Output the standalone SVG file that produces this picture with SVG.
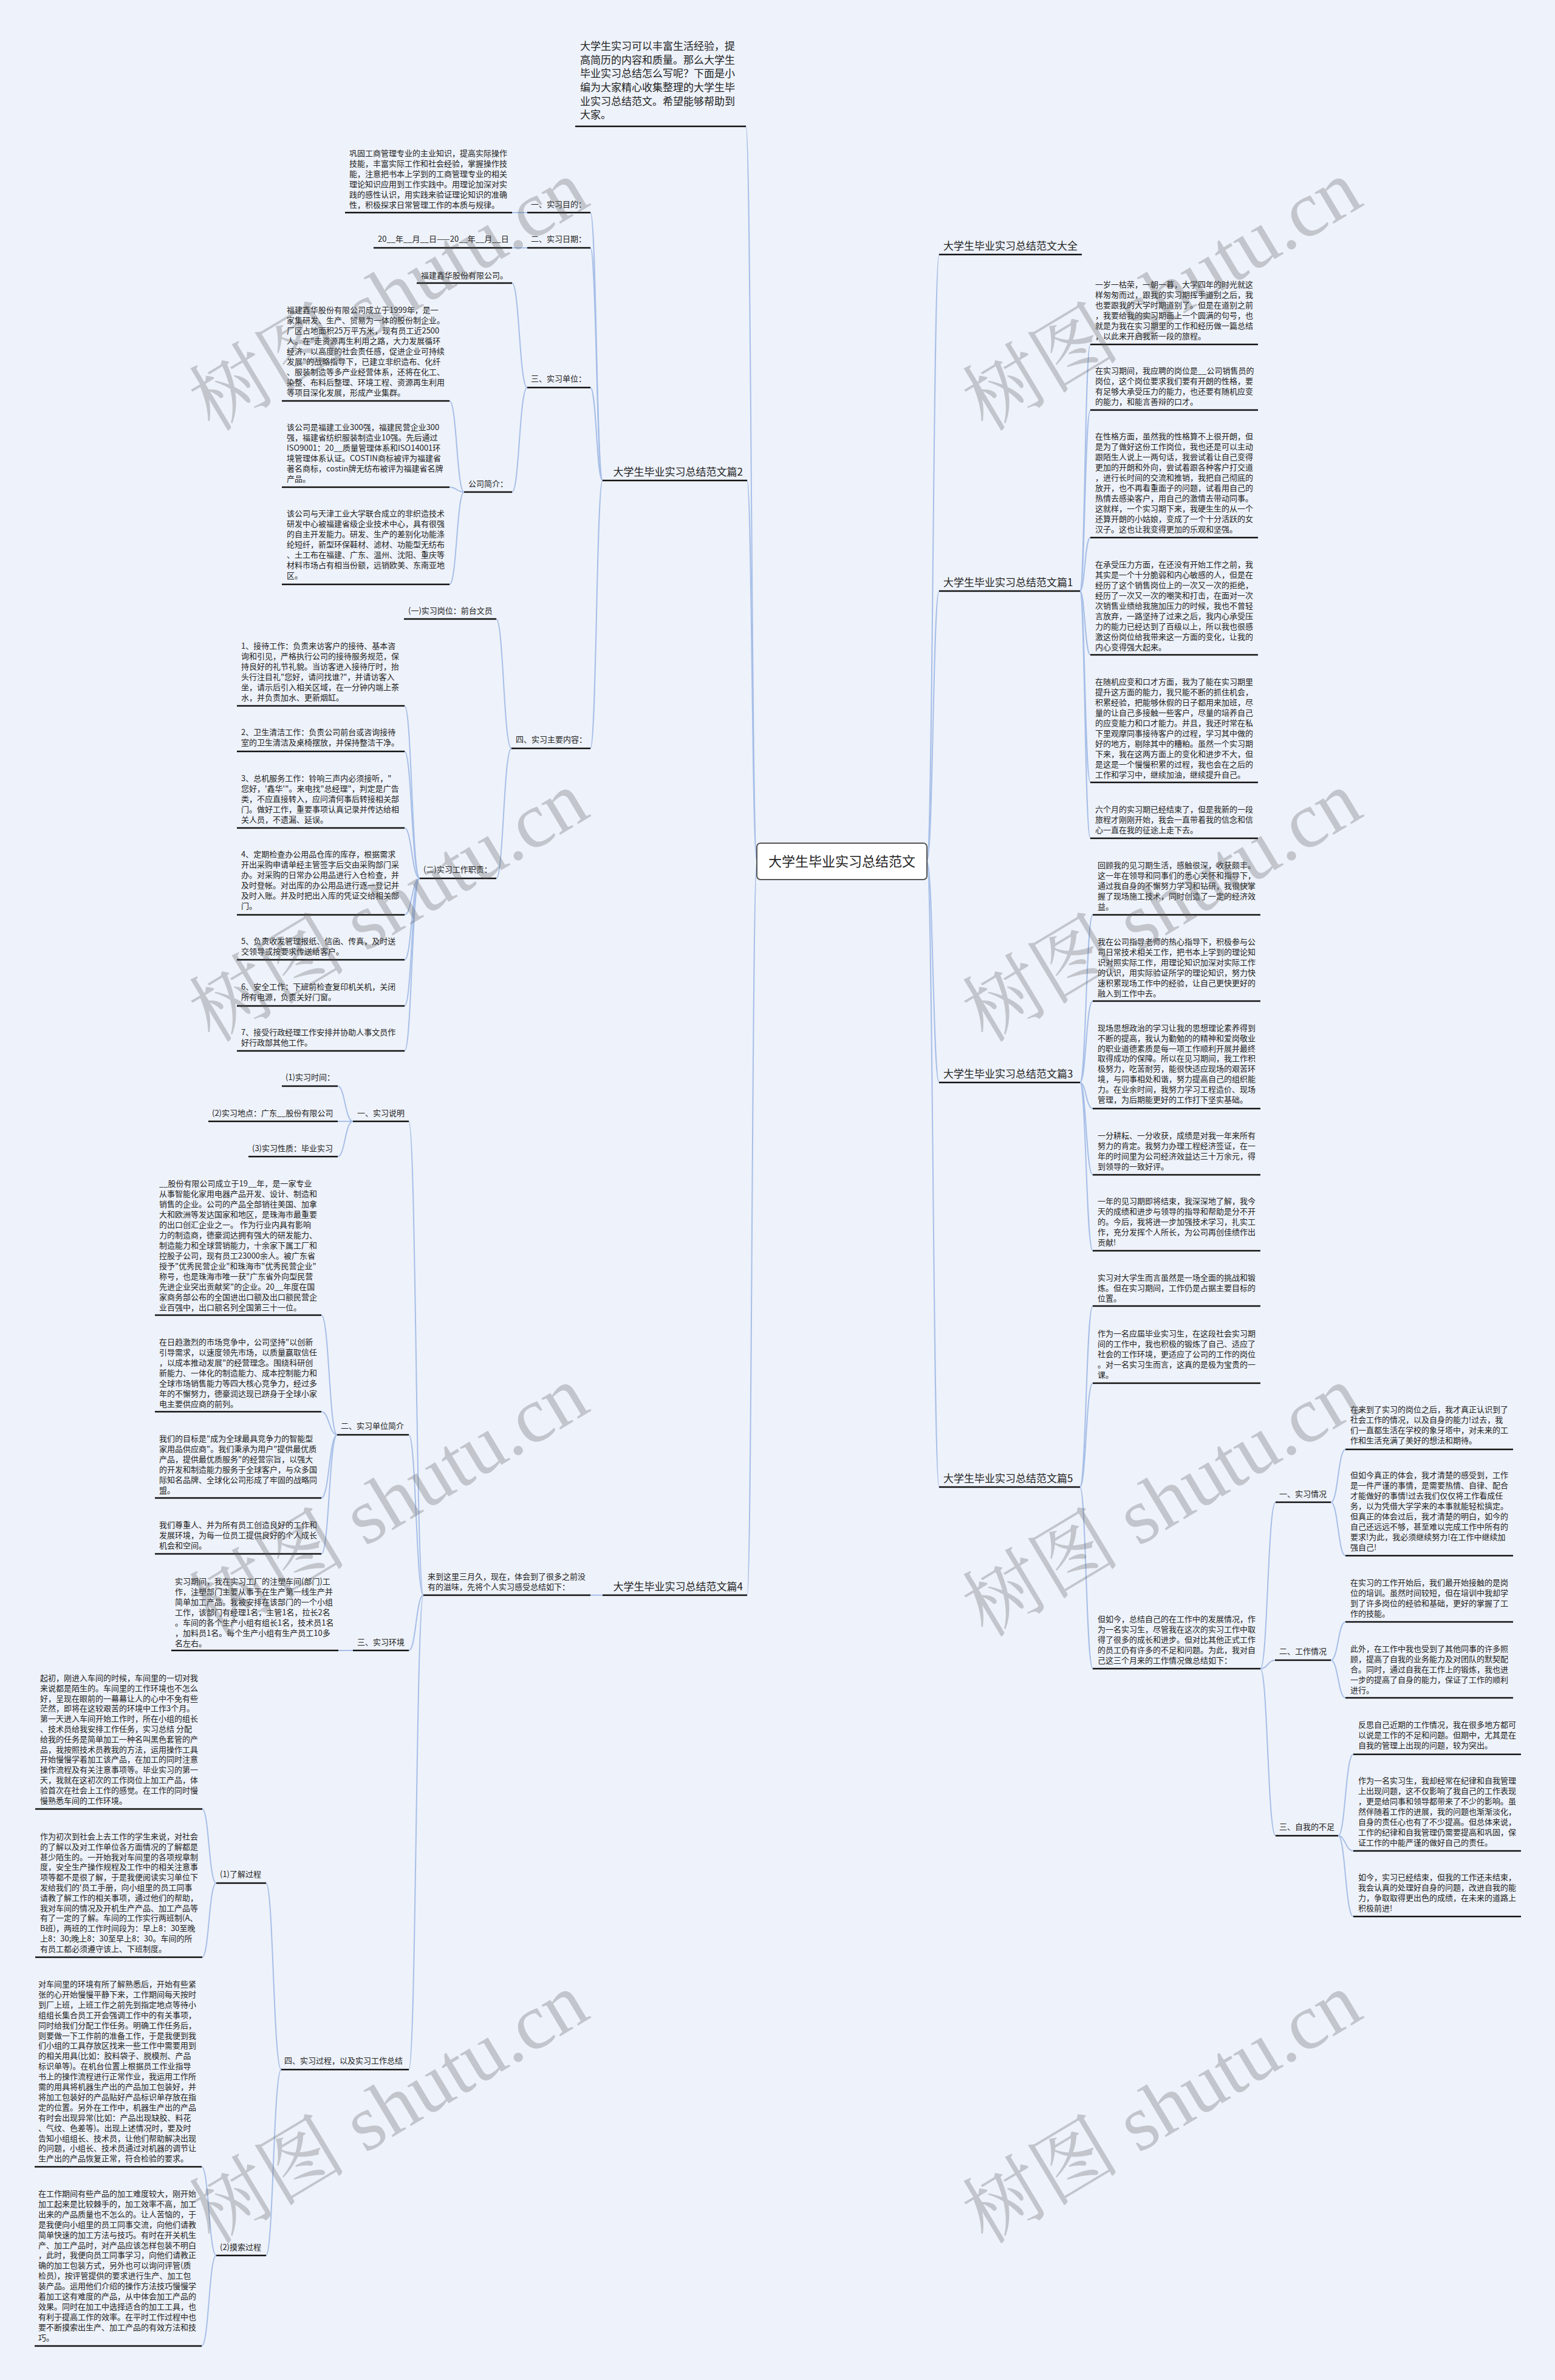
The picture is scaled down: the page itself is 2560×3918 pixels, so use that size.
<svg xmlns="http://www.w3.org/2000/svg" width="2560" height="3918" viewBox="0 0 2560 3918">
<style>
.t{font-family:"Noto Sans CJK SC","Noto Sans",sans-serif;font-size:13px;fill:#222}
.b{font-family:"Noto Sans CJK SC","Noto Sans",sans-serif;font-size:17px;fill:#222}
.c{font-family:"Noto Sans CJK SC","Noto Sans",sans-serif;font-size:22px;fill:#222}
.u{stroke:#111;stroke-width:2.4;fill:none}
.l{stroke:#a7bfe8;stroke-width:2;fill:none}
.w{font-family:"Liberation Serif","Noto Serif CJK SC",serif;font-size:130px;fill:#555;opacity:0.28}
</style>
<rect width="2560" height="3918" fill="#eef2fa"/>

<g id="connectors">
<path class="l" d="M1246 1418 C1237 1418 1237 208 1228 208"/>
<path class="l" d="M1246 1418 C1238 1418 1238 791 1230 791"/>
<path class="l" d="M1246 1418 C1238 1418 1238 2626 1230 2626"/>
<path class="l" d="M1526 1418 C1536 1418 1536 419 1546 419"/>
<path class="l" d="M1526 1418 C1536 1418 1536 973 1546 973"/>
<path class="l" d="M1526 1418 C1536 1418 1536 1782 1546 1782"/>
<path class="l" d="M1526 1418 C1536 1418 1536 2448 1546 2448"/>
<path class="l" d="M992 791 C982 791 982 350 972 350"/>
<path class="l" d="M992 791 C982 791 982 408 972 408"/>
<path class="l" d="M992 791 C982 791 982 638 972 638"/>
<path class="l" d="M992 791 C982 791 982 1232 972 1232"/>
<path class="l" d="M868 350 H843"/>
<path class="l" d="M868 408 H843"/>
<path class="l" d="M868 638 C855 638 855 466 843 466"/>
<path class="l" d="M868 638 C855 638 855 810 843 810"/>
<path class="l" d="M764 810 C752 810 752 660 740 660"/>
<path class="l" d="M764 810 C752 810 752 802 740 802"/>
<path class="l" d="M764 810 C752 810 752 962 740 962"/>
<path class="l" d="M842 1232 C829 1232 829 1019 817 1019"/>
<path class="l" d="M842 1232 C829 1232 829 1446 817 1446"/>
<path class="l" d="M691 1446 C678 1446 678 1162 666 1162"/>
<path class="l" d="M691 1446 C678 1446 678 1237 666 1237"/>
<path class="l" d="M691 1446 C678 1446 678 1363 666 1363"/>
<path class="l" d="M691 1446 C678 1446 678 1506 666 1506"/>
<path class="l" d="M691 1446 C678 1446 678 1580 666 1580"/>
<path class="l" d="M691 1446 C678 1446 678 1656 666 1656"/>
<path class="l" d="M691 1446 C678 1446 678 1730 666 1730"/>
<path class="l" d="M992 2626 H972"/>
<path class="l" d="M697 2626 C685 2626 685 1846 673 1846"/>
<path class="l" d="M697 2626 C685 2626 685 2362 673 2362"/>
<path class="l" d="M697 2626 C685 2626 685 2717 673 2717"/>
<path class="l" d="M697 2626 C685 2626 685 3407 673 3407"/>
<path class="l" d="M581 1846 C568 1846 568 1788 556 1788"/>
<path class="l" d="M581 1846 H556"/>
<path class="l" d="M581 1846 C568 1846 568 1904 556 1904"/>
<path class="l" d="M555 2362 C542 2362 542 2165 529 2165"/>
<path class="l" d="M555 2362 C542 2362 542 2324 529 2324"/>
<path class="l" d="M555 2362 C542 2362 542 2466 529 2466"/>
<path class="l" d="M555 2362 C542 2362 542 2558 529 2558"/>
<path class="l" d="M581 2717 H557"/>
<path class="l" d="M463 3407 C450 3407 450 3100 438 3100"/>
<path class="l" d="M463 3407 C450 3407 450 3713 438 3713"/>
<path class="l" d="M356 3100 C344 3100 344 2978 333 2978"/>
<path class="l" d="M356 3100 C344 3100 344 3222 333 3222"/>
<path class="l" d="M356 3713 C344 3713 344 3567 332 3567"/>
<path class="l" d="M356 3713 C344 3713 344 3862 332 3862"/>
<path class="l" d="M1778 973 C1786 973 1786 567 1795 567"/>
<path class="l" d="M1778 973 C1786 973 1786 675 1795 675"/>
<path class="l" d="M1778 973 C1786 973 1786 885 1795 885"/>
<path class="l" d="M1778 973 C1786 973 1786 1078 1795 1078"/>
<path class="l" d="M1778 973 C1786 973 1786 1288 1795 1288"/>
<path class="l" d="M1778 973 C1786 973 1786 1380 1795 1380"/>
<path class="l" d="M1778 1782 C1788 1782 1788 1506 1799 1506"/>
<path class="l" d="M1778 1782 C1788 1782 1788 1648 1799 1648"/>
<path class="l" d="M1778 1782 C1788 1782 1788 1825 1799 1825"/>
<path class="l" d="M1778 1782 C1788 1782 1788 1934 1799 1934"/>
<path class="l" d="M1778 1782 C1788 1782 1788 2059 1799 2059"/>
<path class="l" d="M1778 2448 C1788 2448 1788 2150 1799 2150"/>
<path class="l" d="M1778 2448 C1788 2448 1788 2277 1799 2277"/>
<path class="l" d="M1778 2448 C1788 2448 1788 2747 1799 2747"/>
<path class="l" d="M2075 2747 C2087 2747 2087 2473 2100 2473"/>
<path class="l" d="M2075 2747 C2087 2747 2087 2733 2100 2733"/>
<path class="l" d="M2075 2747 C2087 2747 2087 3022 2100 3022"/>
<path class="l" d="M2191 2473 C2203 2473 2203 2386 2215 2386"/>
<path class="l" d="M2191 2473 C2203 2473 2203 2561 2215 2561"/>
<path class="l" d="M2191 2733 C2203 2733 2203 2670 2215 2670"/>
<path class="l" d="M2191 2733 C2203 2733 2203 2795 2215 2795"/>
<path class="l" d="M2203 3022 C2215 3022 2215 2888 2228 2888"/>
<path class="l" d="M2203 3022 C2215 3022 2215 3047 2228 3047"/>
<path class="l" d="M2203 3022 C2215 3022 2215 3155 2228 3155"/>
</g>

<g id="center">
<rect x="1246" y="1388" width="280" height="60" rx="6" fill="#ffffff" stroke="#555" stroke-width="2"/>
<text class="c" x="1386" y="1426" text-anchor="middle">大学生毕业实习总结范文</text>
</g>

<g id="intro">
<text class="b" x="955"><tspan x="955" y="82">大学生实习可以丰富生活经验，提</tspan><tspan x="955" y="105">高简历的内容和质量。那么大学生</tspan><tspan x="955" y="127">毕业实习总结怎么写呢？下面是小</tspan><tspan x="955" y="150">编为大家精心收集整理的大学生毕</tspan><tspan x="955" y="173">业实习总结范文。希望能够帮助到</tspan><tspan x="955" y="195">大家。</tspan></text>
<line class="u" x1="947" y1="208" x2="1228" y2="208"/>
</g>

<g id="p2">
<text class="b" x="1223" y="783" text-anchor="end">大学生毕业实习总结范文篇2</text>
<line class="u" x1="992" y1="791" x2="1230" y2="791"/>
</g>
<g id="p2-1"><text class="t" x="874" y="341">一、实习目的：</text><line class="u" x1="868" y1="350" x2="972" y2="350"/></g>
<g id="p2-1a"><text class="t" x="575"><tspan x="575" y="257">巩固工商管理专业的主业知识，提高实际操作</tspan><tspan x="575" dy="17">技能，丰富实际工作和社会经验，掌握操作技</tspan><tspan x="575" dy="17">能，注意把书本上学到的工商管理专业的相关</tspan><tspan x="575" dy="17">理论知识应用到工作实践中。用理论加深对实</tspan><tspan x="575" dy="17">践的感性认识，用实践来验证理论知识的准确</tspan><tspan x="575" dy="17">性，积极探求日常管理工作的本质与规律。</tspan></text><line class="u" x1="568" y1="350" x2="843" y2="350"/></g>
<g id="p2-2"><text class="t" x="874" y="398">二、实习日期：</text><line class="u" x1="868" y1="408" x2="972" y2="408"/></g>
<g id="p2-2a"><text class="t" x="622" y="398">20__年__月__日——20__年__月__日</text><line class="u" x1="615" y1="408" x2="843" y2="408"/></g>
<g id="p2-3"><text class="t" x="874" y="628">三、实习单位：</text><line class="u" x1="868" y1="638" x2="972" y2="638"/></g>
<g id="p2-3a"><text class="t" x="693" y="458">福建鑫华股份有限公司。</text><line class="u" x1="686" y1="466" x2="843" y2="466"/></g>
<g id="p2-3b"><text class="t" x="771" y="801">公司简介：</text><line class="u" x1="764" y1="810" x2="843" y2="810"/></g>
<g id="p2-3b1"><text class="t" x="472"><tspan x="472" y="515">福建鑫华股份有限公司成立于1999年，是一</tspan><tspan x="472" dy="17">家集研发、生产、贸易为一体的股份制企业。</tspan><tspan x="472" dy="17">厂区占地面积25万平方米，现有员工近2500</tspan><tspan x="472" dy="17">人。在"走资源再生利用之路，大力发展循环</tspan><tspan x="472" dy="17">经济，以高度的社会责任感，促进企业可持续</tspan><tspan x="472" dy="17">发展"的战略指导下，已建立非织造布、化纤</tspan><tspan x="472" dy="17">、服装制造等多产业经营体系，还将在化工、</tspan><tspan x="472" dy="17">染整、布料后整理、环境工程、资源再生利用</tspan><tspan x="472" dy="17">等项目深化发展，形成产业集群。</tspan></text><line class="u" x1="464" y1="660" x2="740" y2="660"/></g>
<g id="p2-3b2"><text class="t" x="472"><tspan x="472" y="708">该公司是福建工业300强，福建民营企业300</tspan><tspan x="472" dy="17">强，福建省纺织服装制造业10强。先后通过</tspan><tspan x="472" dy="17">ISO9001：20__质量管理体系和ISO14001环</tspan><tspan x="472" dy="17">境管理体系认证。COSTIN商标被评为福建省</tspan><tspan x="472" dy="17">著名商标，costin牌无纺布被评为福建省名牌</tspan><tspan x="472" dy="17">产品。</tspan></text><line class="u" x1="464" y1="802" x2="740" y2="802"/></g>
<g id="p2-3b3"><text class="t" x="472"><tspan x="472" y="850">该公司与天津工业大学联合成立的非织造技术</tspan><tspan x="472" dy="17">研发中心被福建省级企业技术中心，具有很强</tspan><tspan x="472" dy="17">的自主开发能力。研发、生产的差别化功能涤</tspan><tspan x="472" dy="17">纶短纤，新型环保鞋材、滤材、功能型无纺布</tspan><tspan x="472" dy="17">、土工布在福建、广东、温州、沈阳、重庆等</tspan><tspan x="472" dy="17">材料市场占有相当份额，远销欧美、东南亚地</tspan><tspan x="472" dy="17">区。</tspan></text><line class="u" x1="464" y1="962" x2="740" y2="962"/></g>
<g id="p2-4"><text class="t" x="849" y="1222">四、实习主要内容：</text><line class="u" x1="842" y1="1232" x2="972" y2="1232"/></g>
<g id="p2-4a"><text class="t" x="672" y="1010">(一)实习岗位：前台文员</text><line class="u" x1="665" y1="1019" x2="817" y2="1019"/></g>
<g id="p2-4b"><text class="t" x="697" y="1436">(二)实习工作职责：</text><line class="u" x1="691" y1="1446" x2="817" y2="1446"/></g>
<g id="p2-4b1"><text class="t" x="397"><tspan x="397" y="1068">1、接待工作：负责来访客户的接待、基本咨</tspan><tspan x="397" dy="17">询和引见，严格执行公司的接待服务规范，保</tspan><tspan x="397" dy="17">持良好的礼节礼貌。当访客进入接待厅时，抬</tspan><tspan x="397" dy="17">头行注目礼"您好，请问找谁?"，并请访客入</tspan><tspan x="397" dy="17">坐，请示后引入相关区域，在一分钟内端上茶</tspan><tspan x="397" dy="17">水，并负责加水、更新烟缸。</tspan></text><line class="u" x1="390" y1="1162" x2="666" y2="1162"/></g>
<g id="p2-4b2"><text class="t" x="397"><tspan x="397" y="1210">2、卫生清洁工作：负责公司前台或咨询接待</tspan><tspan x="397" dy="17">室的卫生清洁及桌椅摆放，并保持整洁干净。</tspan></text><line class="u" x1="390" y1="1237" x2="666" y2="1237"/></g>
<g id="p2-4b3"><text class="t" x="397"><tspan x="397" y="1286">3、总机服务工作：铃响三声内必须接听，"</tspan><tspan x="397" dy="17">您好，'鑫华'"。来电找"总经理"，判定是广告</tspan><tspan x="397" dy="17">类，不应直接转入，应问清何事后转接相关部</tspan><tspan x="397" dy="17">门。做好工作，重要事项认真记录并传达给相</tspan><tspan x="397" dy="17">关人员，不遗漏、延误。</tspan></text><line class="u" x1="390" y1="1363" x2="666" y2="1363"/></g>
<g id="p2-4b4"><text class="t" x="397"><tspan x="397" y="1411">4、定期检查办公用品仓库的库存，根据需求</tspan><tspan x="397" dy="17">开出采购申请单经主管签字后交由采购部门采</tspan><tspan x="397" dy="17">办。对采购的日常办公用品进行入仓检查，并</tspan><tspan x="397" dy="17">及时登帐。对出库的办公用品进行逐一登记并</tspan><tspan x="397" dy="17">及时入账。并及时把出入库的凭证交给相关部</tspan><tspan x="397" dy="17">门。</tspan></text><line class="u" x1="390" y1="1506" x2="666" y2="1506"/></g>
<g id="p2-4b5"><text class="t" x="397"><tspan x="397" y="1554">5、负责收发管理报纸、信函、传真，及时送</tspan><tspan x="397" dy="17">交领导或按要求传送给客户。</tspan></text><line class="u" x1="390" y1="1580" x2="666" y2="1580"/></g>
<g id="p2-4b6"><text class="t" x="397"><tspan x="397" y="1629">6、安全工作：下班前检查复印机关机，关闭</tspan><tspan x="397" dy="17">所有电源，负责关好门窗。</tspan></text><line class="u" x1="390" y1="1656" x2="666" y2="1656"/></g>
<g id="p2-4b7"><text class="t" x="397"><tspan x="397" y="1704">7、接受行政经理工作安排并协助人事文员作</tspan><tspan x="397" dy="17">好行政部其他工作。</tspan></text><line class="u" x1="390" y1="1730" x2="666" y2="1730"/></g>

<g id="p4">
<text class="b" x="1223" y="2618" text-anchor="end">大学生毕业实习总结范文篇4</text>
<line class="u" x1="992" y1="2626" x2="1230" y2="2626"/>
</g>
<g id="p4-0"><text class="t" x="704"><tspan x="704" y="2600">来到这里三月久，现在，体会到了很多之前没</tspan><tspan x="704" dy="17">有的滋味，先将个人实习感受总结如下：</tspan></text><line class="u" x1="697" y1="2626" x2="972" y2="2626"/></g>
<g id="p4-1"><text class="t" x="588" y="1837">一、实习说明</text><line class="u" x1="581" y1="1846" x2="673" y2="1846"/></g>
<g id="p4-1a"><text class="t" x="470" y="1778">(1)实习时间：</text><line class="u" x1="464" y1="1788" x2="556" y2="1788"/></g>
<g id="p4-1b"><text class="t" x="349" y="1837">(2)实习地点：广东__股份有限公司</text><line class="u" x1="343" y1="1846" x2="556" y2="1846"/></g>
<g id="p4-1c"><text class="t" x="415" y="1895">(3)实习性质：毕业实习</text><line class="u" x1="409" y1="1904" x2="556" y2="1904"/></g>
<g id="p4-2"><text class="t" x="561" y="2352">二、实习单位简介</text><line class="u" x1="555" y1="2362" x2="673" y2="2362"/></g>
<g id="p4-2a"><text class="t" x="262"><tspan x="262" y="1953">__股份有限公司成立于19__年，是一家专业</tspan><tspan x="262" dy="17">从事智能化家用电器产品开发、设计、制造和</tspan><tspan x="262" dy="17">销售的企业。公司的产品全部销往美国、加拿</tspan><tspan x="262" dy="17">大和欧洲等发达国家和地区，是珠海市最重要</tspan><tspan x="262" dy="17">的出口创汇企业之一。 作为行业内具有影响</tspan><tspan x="262" dy="17">力的制造商，德豪润达拥有强大的研发能力、</tspan><tspan x="262" dy="17">制造能力和全球营销能力，十余家下属工厂和</tspan><tspan x="262" dy="17">控股子公司，现有员工23000余人。被广东省</tspan><tspan x="262" dy="17">授予"优秀民营企业"和珠海市"优秀民营企业"</tspan><tspan x="262" dy="17">称号，也是珠海市唯一获"广东省外向型民营</tspan><tspan x="262" dy="17">先进企业突出贡献奖"的企业。20__年度在国</tspan><tspan x="262" dy="17">家商务部公布的全国进出口额及出口额民营企</tspan><tspan x="262" dy="17">业百强中，出口额名列全国第三十一位。</tspan></text><line class="u" x1="255" y1="2165" x2="529" y2="2165"/></g>
<g id="p4-2b"><text class="t" x="262"><tspan x="262" y="2214">在日趋激烈的市场竞争中，公司坚持"以创新</tspan><tspan x="262" dy="17">引导需求，以速度领先市场，以质量赢取信任</tspan><tspan x="262" dy="17">，以成本推动发展"的经营理念。围绕科研创</tspan><tspan x="262" dy="17">新能力、一体化的制造能力、成本控制能力和</tspan><tspan x="262" dy="17">全球市场销售能力等四大核心竞争力，经过多</tspan><tspan x="262" dy="17">年的不懈努力，德豪润达现已跻身于全球小家</tspan><tspan x="262" dy="17">电主要供应商的前列。</tspan></text><line class="u" x1="255" y1="2324" x2="529" y2="2324"/></g>
<g id="p4-2c"><text class="t" x="262"><tspan x="262" y="2373">我们的目标是"成为全球最具竞争力的智能型</tspan><tspan x="262" dy="17">家用品供应商"。我们秉承为用户"提供最优质</tspan><tspan x="262" dy="17">产品，提供最优质服务"的经营宗旨，以强大</tspan><tspan x="262" dy="17">的开发和制造能力服务于全球客户，与众多国</tspan><tspan x="262" dy="17">际知名品牌、全球化公司形成了牢固的战略同</tspan><tspan x="262" dy="17">盟。</tspan></text><line class="u" x1="255" y1="2466" x2="529" y2="2466"/></g>
<g id="p4-2d"><text class="t" x="262"><tspan x="262" y="2515">我们尊重人、并为所有员工创造良好的工作和</tspan><tspan x="262" dy="17">发展环境，为每一位员工提供良好的个人成长</tspan><tspan x="262" dy="17">机会和空间。</tspan></text><line class="u" x1="255" y1="2558" x2="529" y2="2558"/></g>
<g id="p4-3"><text class="t" x="588" y="2708">三、实习环境</text><line class="u" x1="581" y1="2717" x2="673" y2="2717"/></g>
<g id="p4-3a"><text class="t" x="288"><tspan x="288" y="2608">实习期间，我在实习工厂的注塑车间(部门)工</tspan><tspan x="288" dy="17">作，注塑部门主要从事于在生产第一线生产并</tspan><tspan x="288" dy="17">简单加工产品。我被安排在该部门的一个小组</tspan><tspan x="288" dy="17">工作，该部门有经理1名，主管1名，拉长2名</tspan><tspan x="288" dy="17">。车间的各个生产小组有组长1名，技术员1名</tspan><tspan x="288" dy="17">，加料员1名。每个生产小组有生产员工10多</tspan><tspan x="288" dy="17">名左右。</tspan></text><line class="u" x1="282" y1="2717" x2="557" y2="2717"/></g>
<g id="p4-4"><text class="t" x="468" y="3397">四、实习过程，以及实习工作总结</text><line class="u" x1="463" y1="3407" x2="673" y2="3407"/></g>
<g id="p4-4a"><text class="t" x="362" y="3090">(1)了解过程</text><line class="u" x1="356" y1="3100" x2="438" y2="3100"/></g>
<g id="p4-4b"><text class="t" x="362" y="3704">(2)摸索过程</text><line class="u" x1="356" y1="3713" x2="438" y2="3713"/></g>
<g id="p4-4a1"><text class="t" x="66"><tspan x="66" y="2767">起初，刚进入车间的时候，车间里的一切对我</tspan><tspan x="66" dy="16.8">来说都是陌生的。车间里的工作环境也不怎么</tspan><tspan x="66" dy="16.8">好，呈现在眼前的一幕幕让人的心中不免有些</tspan><tspan x="66" dy="16.8">茫然，即将在这较艰苦的环境中工作3个月。</tspan><tspan x="66" dy="16.8">第一天进入车间开始工作时，所在小组的组长</tspan><tspan x="66" dy="16.8">、技术员给我安排工作任务，实习总结 分配</tspan><tspan x="66" dy="16.8">给我的任务是简单加工一种名叫黑色套管的产</tspan><tspan x="66" dy="16.8">品，我按照技术员教我的方法，运用操作工具</tspan><tspan x="66" dy="16.8">开始慢慢学着加工该产品，在加工的同时注意</tspan><tspan x="66" dy="16.8">操作流程及有关注意事项等。毕业实习的第一</tspan><tspan x="66" dy="16.8">天，我就在这初次的工作岗位上加工产品，体</tspan><tspan x="66" dy="16.8">验首次在社会上工作的感觉。在工作的同时慢</tspan><tspan x="66" dy="16.8">慢熟悉车间的工作环境。</tspan></text><line class="u" x1="58" y1="2978" x2="333" y2="2978"/></g>
<g id="p4-4a2"><text class="t" x="66"><tspan x="66" y="3028">作为初次到社会上去工作的学生来说，对社会</tspan><tspan x="66" dy="16.8">的了解以及对工作单位各方面情况的了解都是</tspan><tspan x="66" dy="16.8">甚少陌生的。一开始我对车间里的各项规章制</tspan><tspan x="66" dy="16.8">度，安全生产操作规程及工作中的相关注意事</tspan><tspan x="66" dy="16.8">项等都不是很了解，于是我便阅读实习单位下</tspan><tspan x="66" dy="16.8">发给我们的'员工手册，向小组里的员工同事</tspan><tspan x="66" dy="16.8">请教了解工作的相关事项，通过他们的帮助，</tspan><tspan x="66" dy="16.8">我对车间的情况及开机生产产品、加工产品等</tspan><tspan x="66" dy="16.8">有了一定的了解。车间的工作实行两班制(A、</tspan><tspan x="66" dy="16.8">B班)，两班的工作时间段为：早上8：30至晚</tspan><tspan x="66" dy="16.8">上8：30;晚上8：30至早上8：30。车间的所</tspan><tspan x="66" dy="16.8">有员工都必须遵守该上、下班制度。</tspan></text><line class="u" x1="58" y1="3222" x2="333" y2="3222"/></g>
<g id="p4-4b1"><text class="t" x="63"><tspan x="63" y="3271">对车间里的环境有所了解熟悉后，开始有些紧</tspan><tspan x="63" dy="16.9">张的心开始慢慢平静下来，工作期间每天按时</tspan><tspan x="63" dy="16.9">到厂上班，上班工作之前先到指定地点等待小</tspan><tspan x="63" dy="16.9">组组长集合员工开会强调工作中的有关事项，</tspan><tspan x="63" dy="16.9">同时给我们分配工作任务。明确工作任务后，</tspan><tspan x="63" dy="16.9">则要做一下工作前的准备工作，于是我便到我</tspan><tspan x="63" dy="16.9">们小组的工具存放区找来一些工作中需要用到</tspan><tspan x="63" dy="16.9">的相关用具(比如：胶料袋子、脱模剂、产品</tspan><tspan x="63" dy="16.9">标识单等)。在机台位置上根据员工作业指导</tspan><tspan x="63" dy="16.9">书上的操作流程进行正常作业，我运用工作所</tspan><tspan x="63" dy="16.9">需的用具将机器生产出的产品加工包装好，并</tspan><tspan x="63" dy="16.9">将加工包装好的产品贴好产品标识单存放在指</tspan><tspan x="63" dy="16.9">定的位置。另外在工作中，机器生产出的产品</tspan><tspan x="63" dy="16.9">有时会出现异常(比如：产品出现缺胶、料花</tspan><tspan x="63" dy="16.9">、气纹、色差等)。出现上述情况时，要及时</tspan><tspan x="63" dy="16.9">告知小组组长、技术员，让他们帮助解决出现</tspan><tspan x="63" dy="16.9">的问题，小组长、技术员通过对机器的调节让</tspan><tspan x="63" dy="16.9">生产出的产品恢复正常，符合检验的要求。</tspan></text><line class="u" x1="57" y1="3567" x2="332" y2="3567"/></g>
<g id="p4-4b2"><text class="t" x="63"><tspan x="63" y="3616">在工作期间有些产品的加工难度较大，刚开始</tspan><tspan x="63" dy="16.9">加工起来是比较棘手的，加工效率不高，加工</tspan><tspan x="63" dy="16.9">出来的产品质量也不怎么的。让人苦恼的，于</tspan><tspan x="63" dy="16.9">是我便向小组里的员工同事交流，向他们请教</tspan><tspan x="63" dy="16.9">简单快速的加工方法与技巧。有时在开关机生</tspan><tspan x="63" dy="16.9">产、加工产品时，对产品应该怎样包装不明白</tspan><tspan x="63" dy="16.9">，此时，我便向员工同事学习，向他们请教正</tspan><tspan x="63" dy="16.9">确的加工包装方式，另外也可以询问评管(质</tspan><tspan x="63" dy="16.9">检员)，按评管提供的要求进行生产、加工包</tspan><tspan x="63" dy="16.9">装产品。运用他们介绍的操作方法技巧慢慢学</tspan><tspan x="63" dy="16.9">着加工这有难度的产品，从中体会加工产品的</tspan><tspan x="63" dy="16.9">效果。同时在加工中选择适合的加工工具，也</tspan><tspan x="63" dy="16.9">有利于提高工作的效率。在平时工作过程中也</tspan><tspan x="63" dy="16.9">要不断摸索出生产、加工产品的有效方法和技</tspan><tspan x="63" dy="16.9">巧。</tspan></text><line class="u" x1="57" y1="3862" x2="332" y2="3862"/></g>

<g id="all"><text class="b" x="1553" y="411">大学生毕业实习总结范文大全</text><line class="u" x1="1546" y1="419" x2="1781" y2="419"/></g>

<g id="p1"><text class="b" x="1553" y="965">大学生毕业实习总结范文篇1</text><line class="u" x1="1546" y1="973" x2="1778" y2="973"/></g>
<g id="p1-1"><text class="t" x="1803"><tspan x="1803" y="473">一岁一枯荣，一朝一暮，大学四年的时光就这</tspan><tspan x="1803" dy="17">样匆匆而过，跟我的实习期挥手道别之后，我</tspan><tspan x="1803" dy="17">也要跟我的大学时期道别了。但是在道别之前</tspan><tspan x="1803" dy="17">，我要给我的实习期画上一个圆满的句号，也</tspan><tspan x="1803" dy="17">就是为我在实习期里的工作和经历做一篇总结</tspan><tspan x="1803" dy="17">，以此来开启我新一段的旅程。</tspan></text><line class="u" x1="1795" y1="567" x2="2071" y2="567"/></g>
<g id="p1-2"><text class="t" x="1803"><tspan x="1803" y="615">在实习期间，我应聘的岗位是__公司销售员的</tspan><tspan x="1803" dy="17">岗位，这个岗位要求我们要有开朗的性格，要</tspan><tspan x="1803" dy="17">有足够大承受压力的能力，也还要有随机应变</tspan><tspan x="1803" dy="17">的能力，和能言善辩的口才。</tspan></text><line class="u" x1="1795" y1="675" x2="2071" y2="675"/></g>
<g id="p1-3"><text class="t" x="1803"><tspan x="1803" y="723">在性格方面，虽然我的性格算不上很开朗，但</tspan><tspan x="1803" dy="17">是为了做好这份工作岗位，我也还是可以主动</tspan><tspan x="1803" dy="17">跟陌生人说上一两句话，我尝试着让自己变得</tspan><tspan x="1803" dy="17">更加的开朗和外向，尝试着跟各种客户打交道</tspan><tspan x="1803" dy="17">，进行长时间的交流和推销，我把自己彻底的</tspan><tspan x="1803" dy="17">放开，也不再看重面子的问题，试着用自己的</tspan><tspan x="1803" dy="17">热情去感染客户，用自己的激情去带动同事。</tspan><tspan x="1803" dy="17">这就样，一个实习期下来，我硬生生的从一个</tspan><tspan x="1803" dy="17">还算开朗的小姑娘，变成了一个十分活跃的女</tspan><tspan x="1803" dy="17">汉子。这也让我变得更加的乐观和坚强。</tspan></text><line class="u" x1="1795" y1="885" x2="2071" y2="885"/></g>
<g id="p1-4"><text class="t" x="1803"><tspan x="1803" y="934">在承受压力方面，在还没有开始工作之前，我</tspan><tspan x="1803" dy="17">其实是一个十分脆弱和内心敏感的人，但是在</tspan><tspan x="1803" dy="17">经历了这个销售岗位上的一次又一次的拒绝，</tspan><tspan x="1803" dy="17">经历了一次又一次的嘲笑和打击，在面对一次</tspan><tspan x="1803" dy="17">次销售业绩给我施加压力的时候，我也不曾轻</tspan><tspan x="1803" dy="17">言放弃，一路坚持了过来之后，我内心承受压</tspan><tspan x="1803" dy="17">力的能力已经达到了百级以上，所以我也很感</tspan><tspan x="1803" dy="17">激这份岗位给我带来这一方面的变化，让我的</tspan><tspan x="1803" dy="17">内心变得强大起来。</tspan></text><line class="u" x1="1795" y1="1078" x2="2071" y2="1078"/></g>
<g id="p1-5"><text class="t" x="1803"><tspan x="1803" y="1127">在随机应变和口才方面，我为了能在实习期里</tspan><tspan x="1803" dy="17">提升这方面的能力，我只能不断的抓住机会，</tspan><tspan x="1803" dy="17">积累经验，把能够休假的日子都用来加班，尽</tspan><tspan x="1803" dy="17">量的让自己多接触一些客户，尽量的培养自己</tspan><tspan x="1803" dy="17">的应变能力和口才能力。并且，我还时常在私</tspan><tspan x="1803" dy="17">下里观摩同事接待客户的过程，学习其中做的</tspan><tspan x="1803" dy="17">好的地方，剔除其中的糟粕。虽然一个实习期</tspan><tspan x="1803" dy="17">下来，我在这两方面上的变化和进步不大，但</tspan><tspan x="1803" dy="17">是这是一个慢慢积累的过程，我也会在之后的</tspan><tspan x="1803" dy="17">工作和学习中，继续加油，继续提升自己。</tspan></text><line class="u" x1="1795" y1="1288" x2="2071" y2="1288"/></g>
<g id="p1-6"><text class="t" x="1803"><tspan x="1803" y="1337">六个月的实习期已经结束了，但是我新的一段</tspan><tspan x="1803" dy="17">旅程才刚刚开始，我会一直带着我的信念和信</tspan><tspan x="1803" dy="17">心一直在我的征途上走下去。</tspan></text><line class="u" x1="1795" y1="1380" x2="2071" y2="1380"/></g>

<g id="p3"><text class="b" x="1553" y="1774">大学生毕业实习总结范文篇3</text><line class="u" x1="1546" y1="1782" x2="1778" y2="1782"/></g>
<g id="p3-1"><text class="t" x="1807"><tspan x="1807" y="1429">回顾我的见习期生活，感触很深，收获颇丰。</tspan><tspan x="1807" dy="17">这一年在领导和同事们的悉心关怀和指导下，</tspan><tspan x="1807" dy="17">通过我自身的不懈努力学习和钻研，我很快掌</tspan><tspan x="1807" dy="17">握了现场施工技术，同时创造了一定的经济效</tspan><tspan x="1807" dy="17">益。</tspan></text><line class="u" x1="1799" y1="1506" x2="2075" y2="1506"/></g>
<g id="p3-2"><text class="t" x="1807"><tspan x="1807" y="1555">我在公司指导老师的热心指导下，积极参与公</tspan><tspan x="1807" dy="17">司日常技术相关工作，把书本上学到的理论知</tspan><tspan x="1807" dy="17">识对照实际工作，用理论知识加深对实际工作</tspan><tspan x="1807" dy="17">的认识，用实际验证所学的理论知识，努力快</tspan><tspan x="1807" dy="17">速积累现场工作中的经验，让自己更快更好的</tspan><tspan x="1807" dy="17">融入到工作中去。</tspan></text><line class="u" x1="1799" y1="1648" x2="2075" y2="1648"/></g>
<g id="p3-3"><text class="t" x="1807"><tspan x="1807" y="1697">现场思想政治的学习让我的思想理论素养得到</tspan><tspan x="1807" dy="16.8">不断的提高，我认为勤勉的的精神和爱岗敬业</tspan><tspan x="1807" dy="16.8">的职业道德素质是每一项工作顺利开展并最终</tspan><tspan x="1807" dy="16.8">取得成功的保障。所以在见习期间，我工作积</tspan><tspan x="1807" dy="16.8">极努力，吃苦耐劳，能很快适应现场的艰苦环</tspan><tspan x="1807" dy="16.8">境，与同事相处和谐，努力提高自己的组织能</tspan><tspan x="1807" dy="16.8">力。在业余时间，我努力学习工程造价、现场</tspan><tspan x="1807" dy="16.8">管理，为后期能更好的工作打下坚实基础。</tspan></text><line class="u" x1="1799" y1="1825" x2="2075" y2="1825"/></g>
<g id="p3-4"><text class="t" x="1807"><tspan x="1807" y="1874">一分耕耘、一分收获，成绩是对我一年来所有</tspan><tspan x="1807" dy="17">努力的肯定。我努力办理工程经济签证，在一</tspan><tspan x="1807" dy="17">年的时间里为公司经济效益达三十万余元，得</tspan><tspan x="1807" dy="17">到领导的一致好评。</tspan></text><line class="u" x1="1799" y1="1934" x2="2075" y2="1934"/></g>
<g id="p3-5"><text class="t" x="1807"><tspan x="1807" y="1982">一年的见习期即将结束，我深深地了解，我今</tspan><tspan x="1807" dy="17">天的成绩和进步与领导的指导和帮助是分不开</tspan><tspan x="1807" dy="17">的。今后，我将进一步加强技术学习，扎实工</tspan><tspan x="1807" dy="17">作，充分发挥个人所长，为公司再创佳绩作出</tspan><tspan x="1807" dy="17">贡献!</tspan></text><line class="u" x1="1799" y1="2059" x2="2075" y2="2059"/></g>

<g id="p5"><text class="b" x="1553" y="2440">大学生毕业实习总结范文篇5</text><line class="u" x1="1546" y1="2448" x2="1778" y2="2448"/></g>
<g id="p5-1"><text class="t" x="1807"><tspan x="1807" y="2108">实习对大学生而言虽然是一场全面的挑战和锻</tspan><tspan x="1807" dy="17">炼。但在实习期间，工作仍是占据主要目标的</tspan><tspan x="1807" dy="17">位置。</tspan></text><line class="u" x1="1799" y1="2150" x2="2075" y2="2150"/></g>
<g id="p5-2"><text class="t" x="1807"><tspan x="1807" y="2200">作为一名应届毕业实习生，在这段社会实习期</tspan><tspan x="1807" dy="17">间的工作中，我也积极的锻炼了自己、适应了</tspan><tspan x="1807" dy="17">社会的工作环境，更适应了公司的工作的岗位</tspan><tspan x="1807" dy="17">。对一名实习生而言，这真的是极为宝贵的一</tspan><tspan x="1807" dy="17">课。</tspan></text><line class="u" x1="1799" y1="2277" x2="2075" y2="2277"/></g>
<g id="p5-3"><text class="t" x="1807"><tspan x="1807" y="2670">但如今，总结自己的在工作中的发展情况，作</tspan><tspan x="1807" dy="17">为一名实习生，尽管我在这次的实习工作中取</tspan><tspan x="1807" dy="17">得了很多的成长和进步。但对比其他正式工作</tspan><tspan x="1807" dy="17">的员工仍有许多的不足和问题。为此，我对自</tspan><tspan x="1807" dy="17">己这三个月来的工作情况做总结如下：</tspan></text><line class="u" x1="1799" y1="2747" x2="2075" y2="2747"/></g>
<g id="p5-3a"><text class="t" x="2106" y="2464">一、实习情况</text><line class="u" x1="2100" y1="2473" x2="2191" y2="2473"/></g>
<g id="p5-3b"><text class="t" x="2106" y="2723">二、工作情况</text><line class="u" x1="2099" y1="2733" x2="2191" y2="2733"/></g>
<g id="p5-3c"><text class="t" x="2106" y="3012">三、自我的不足</text><line class="u" x1="2100" y1="3022" x2="2203" y2="3022"/></g>
<g id="p5-3a1"><text class="t" x="2223"><tspan x="2223" y="2325">在来到了实习的岗位之后，我才真正认识到了</tspan><tspan x="2223" dy="17">社会工作的情况，以及自身的能力!过去，我</tspan><tspan x="2223" dy="17">们一直都生活在学校的象牙塔中，对未来的工</tspan><tspan x="2223" dy="17">作和生活充满了美好的想法和期待。</tspan></text><line class="u" x1="2215" y1="2386" x2="2491" y2="2386"/></g>
<g id="p5-3a2"><text class="t" x="2223"><tspan x="2223" y="2433">但如今真正的体会，我才清楚的感受到，工作</tspan><tspan x="2223" dy="17">是一件严谨的事情，是需要热情、自律、配合</tspan><tspan x="2223" dy="17">才能做好的事情!过去我们仅仅将工作看成任</tspan><tspan x="2223" dy="17">务，以为凭借大学学来的本事就能轻松搞定。</tspan><tspan x="2223" dy="17">但真正的体会过后，我才清楚的明白，如今的</tspan><tspan x="2223" dy="17">自己还远远不够，甚至难以完成工作中所有的</tspan><tspan x="2223" dy="17">要求!为此，我必须继续努力!在工作中继续加</tspan><tspan x="2223" dy="17">强自己!</tspan></text><line class="u" x1="2215" y1="2561" x2="2491" y2="2561"/></g>
<g id="p5-3b1"><text class="t" x="2223"><tspan x="2223" y="2610">在实习的工作开始后，我们最开始接触的是岗</tspan><tspan x="2223" dy="17">位的培训。虽然时间较短，但在培训中我却学</tspan><tspan x="2223" dy="17">到了许多岗位的经验和基础，更好的掌握了工</tspan><tspan x="2223" dy="17">作的技能。</tspan></text><line class="u" x1="2215" y1="2670" x2="2491" y2="2670"/></g>
<g id="p5-3b2"><text class="t" x="2223"><tspan x="2223" y="2719">此外，在工作中我也受到了其他同事的许多照</tspan><tspan x="2223" dy="17">顾，提高了自我的业务能力及对团队的默契配</tspan><tspan x="2223" dy="17">合。同时，通过自我在工作上的锻炼，我也进</tspan><tspan x="2223" dy="17">一步的提高了自身的能力，保证了工作的顺利</tspan><tspan x="2223" dy="17">进行。</tspan></text><line class="u" x1="2215" y1="2795" x2="2491" y2="2795"/></g>
<g id="p5-3c1"><text class="t" x="2236"><tspan x="2236" y="2844">反思自己近期的工作情况，我在很多地方都可</tspan><tspan x="2236" dy="17">以说是工作的不足和问题。但期中，尤其是在</tspan><tspan x="2236" dy="17">自我的管理上出现的问题，较为突出。</tspan></text><line class="u" x1="2228" y1="2888" x2="2504" y2="2888"/></g>
<g id="p5-3c2"><text class="t" x="2236"><tspan x="2236" y="2936">作为一名实习生，我却经常在纪律和自我管理</tspan><tspan x="2236" dy="17">上出现问题，这不仅影响了我自己的工作表现</tspan><tspan x="2236" dy="17">，更是给同事和领导都带来了不少的影响。虽</tspan><tspan x="2236" dy="17">然伴随着工作的进展，我的问题也渐渐淡化，</tspan><tspan x="2236" dy="17">自身的责任心也有了不少提高。但总体来说，</tspan><tspan x="2236" dy="17">工作的纪律和自我管理仍需要提高和巩固，保</tspan><tspan x="2236" dy="17">证工作的中能严谨的做好自己的责任。</tspan></text><line class="u" x1="2228" y1="3047" x2="2504" y2="3047"/></g>
<g id="p5-3c3"><text class="t" x="2236"><tspan x="2236" y="3095">如今，实习已经结束，但我的工作还未结束，</tspan><tspan x="2236" dy="17">我会认真的处理好自身的问题，改进自我的能</tspan><tspan x="2236" dy="17">力，争取取得更出色的成绩，在未来的道路上</tspan><tspan x="2236" dy="17">积极前进!</tspan></text><line class="u" x1="2228" y1="3155" x2="2504" y2="3155"/></g>

<g id="watermarks">
<text class="w" transform="translate(350 712) rotate(-31)">树图 shutu.cn</text>
<text class="w" transform="translate(1623 712) rotate(-31)">树图 shutu.cn</text>
<text class="w" transform="translate(350 1718) rotate(-31)">树图 shutu.cn</text>
<text class="w" transform="translate(1623 1718) rotate(-31)">树图 shutu.cn</text>
<text class="w" transform="translate(350 2697) rotate(-31)">树图 shutu.cn</text>
<text class="w" transform="translate(1623 2697) rotate(-31)">树图 shutu.cn</text>
<text class="w" transform="translate(350 3696) rotate(-31)">树图 shutu.cn</text>
<text class="w" transform="translate(1623 3696) rotate(-31)">树图 shutu.cn</text>
</g>
</svg>
